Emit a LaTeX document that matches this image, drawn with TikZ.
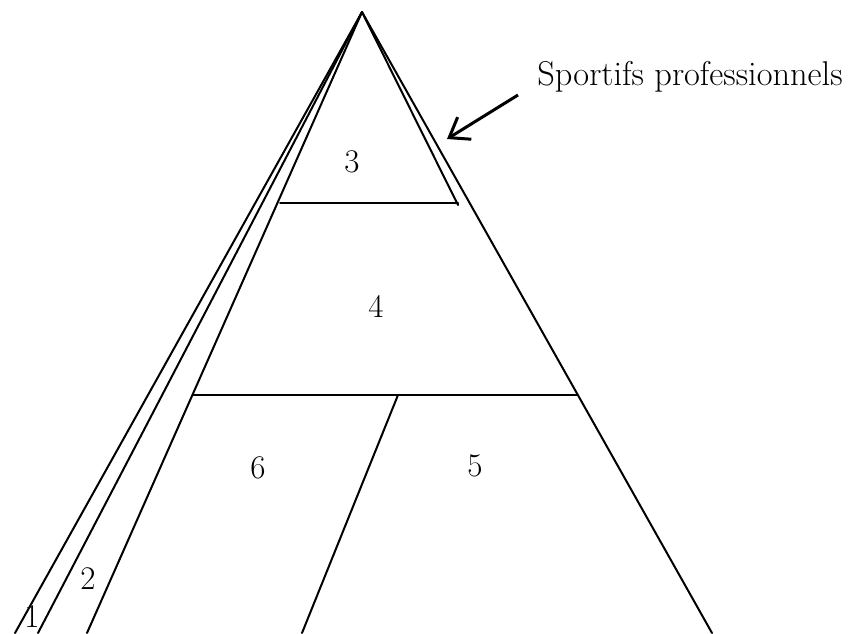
\documentclass[tikz,border=0pt]{standalone}
\usetikzlibrary{arrows.meta}
\begin{document}
\begin{tikzpicture}[x=0.5pt, y=-0.5pt,
    edge/.style={line width=1pt, line cap=round},
    num/.style={font=\fontsize{16.5}{19}\selectfont, inner sep=0pt},
    lbl/.style={font=\fontsize{17.2}{20}\selectfont, inner sep=0pt, anchor=west}]
  \useasboundingbox (0,0) rectangle (854,633);
  \begin{scope}
    \clip (0,0) rectangle (854,633);
    \coordinate (top) at (362,12);
    \coordinate (l1) at (15,633);
    \coordinate (l2) at (38,633);
    \coordinate (l3) at (87,633);
    \coordinate (r1) at (712,633);
    \coordinate (r2) at (458,205);
    % sides of the pyramid
    \draw[edge] (top) -- (l1);
    \draw[edge] (top) -- (l2);
    \draw[edge] (top) -- (l3);
    \draw[edge] (top) -- (r1);
    \draw[edge] (top) -- (r2);
    % levels
    \coordinate (h1a) at (280,203);
    \coordinate (h1b) at (458,203);
    \coordinate (h2a) at (193,395);
    \coordinate (h2b) at (577,395);
    \draw[edge] (h1a) -- (h1b);
    \draw[edge] (h2a) -- (h2b);
    \coordinate (d1) at (398,395);
    \coordinate (d2) at (302,633);
    \draw[edge] (d1) -- (d2);
    % numbers
    \node[num] (n1) at (32,617) {1};
    \node[num] (n2) at (88,579) {2};
    \node[num] (n3) at (352,162) {3};
    \node[num] (n4) at (376,306) {4};
    \node[num] (n5) at (475,466) {5};
    \node[num] (n6) at (258,468) {6};
  \end{scope}
  \node[lbl] (pro) at (537,77) {Sportifs professionnels};
  \coordinate (tail) at (518,95);
  \coordinate (head) at (447,139);
  \draw[line width=1.5pt, -{Straight Barb[length=9pt, width=13pt]}] (tail) -- (head);
\end{tikzpicture}
\end{document}
